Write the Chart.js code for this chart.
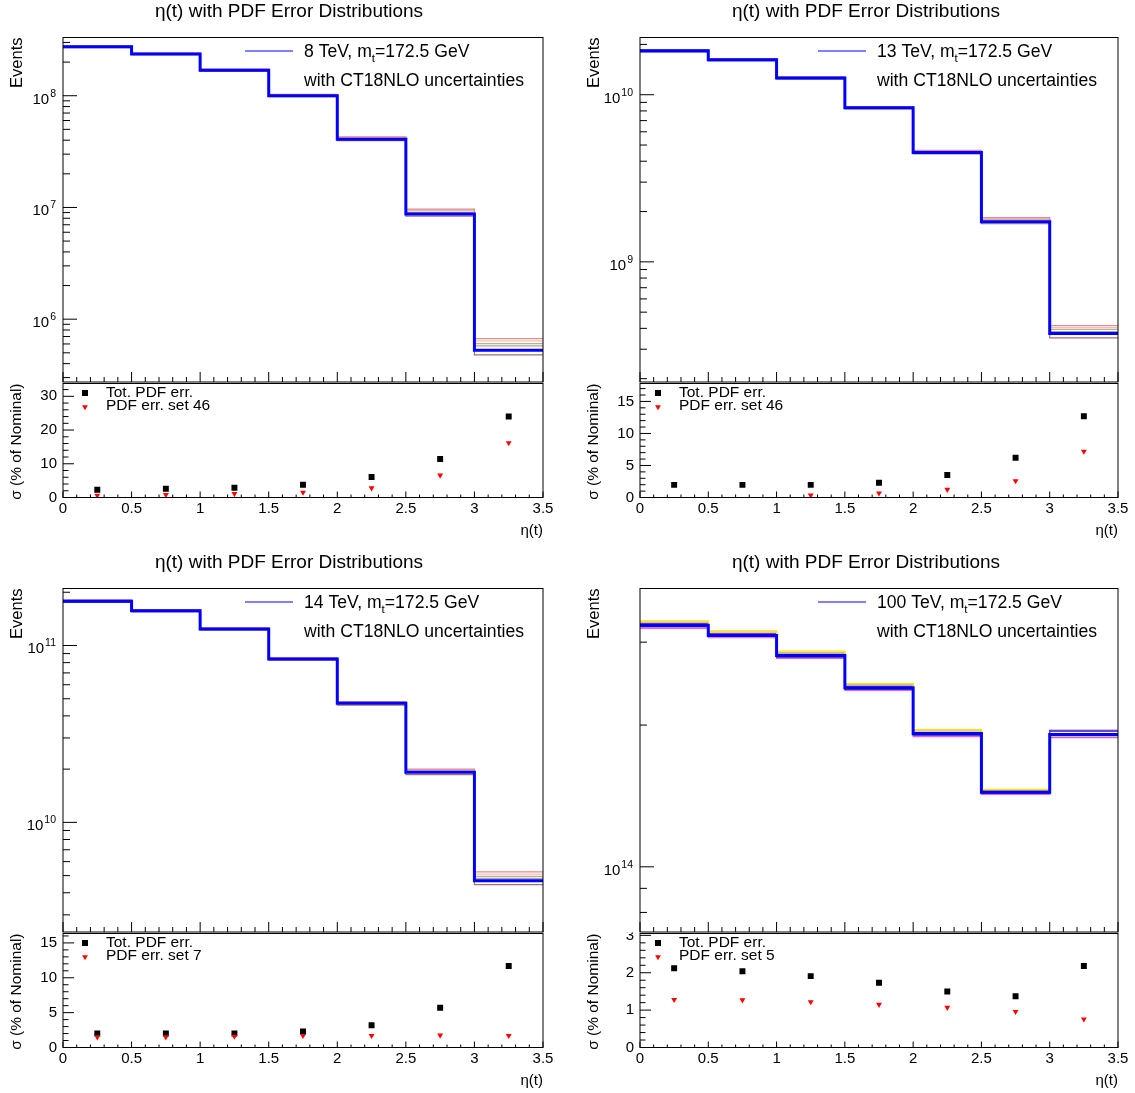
<!DOCTYPE html>
<html>
<head>
<meta charset="utf-8">
<title>eta(t) with PDF error distributions</title>
<script src="https://cdn.jsdelivr.net/npm/chart.js@4.4.1/dist/chart.umd.min.js"></script>
<style>
  body { margin: 0; background: #fff; }
  #page { position: relative; width: 1135px; height: 1093px; background: #fff; }
  #page canvas { position: absolute; left: 0; top: 0; }
</style>
</head>
<body>
<div id="page"></div>
<script>
var Wpx = 1135, Hpx = 1093;
var FACE = '"Liberation Sans", Arial, Helvetica, sans-serif';

// eta(t) binning
var binEdges = [0, 0.5, 1, 1.5, 2, 2.5, 3, 3.5];
var binCentres = [0.25, 0.75, 1.25, 1.75, 2.25, 2.75, 3.25];
var xTickLabels = ['0', '0.5', '1', '1.5', '2', '2.5', '3', '3.5'];

var energies = ['8', '13', '14', '100'];
var errSetLabels = ['PDF err. set 46', 'PDF err. set 46', 'PDF err. set 7', 'PDF err. set 5'];

// 8 TeV: nominal and a few CT18NLO error members
var nom8 = [2.74e8, 2.36e8, 1.69e8, 1.00e8, 4.07e7, 8.73e6, 5.27e5];
var var8Red = [2.80e8, 2.41e8, 1.73e8, 1.03e8, 4.29e7, 9.67e6, 6.70e5];
var var8Pink = [2.78e8, 2.40e8, 1.72e8, 1.02e8, 4.24e7, 9.50e6, 6.40e5];
var var8Tan = [2.77e8, 2.39e8, 1.71e8, 1.02e8, 4.20e7, 9.34e6, 6.04e5];
var var8Grey = [2.76e8, 2.38e8, 1.70e8, 1.01e8, 4.15e7, 9.02e6, 5.77e5];
var var8Cyan = [2.77e8, 2.38e8, 1.70e8, 1.01e8, 4.10e7, 8.80e6, 5.35e5];
var var8Brown = [2.70e8, 2.33e8, 1.66e8, 0.98e8, 3.97e7, 8.37e6, 4.79e5];
var tot8 = [2.3, 2.6, 2.9, 3.8, 6.1, 11.4, 24.0];
var set8 = [0.6, 0.8, 1.1, 1.5, 2.8, 6.6, 16.2];

// 13 TeV
var nom13 = [1.83e10, 1.62e10, 1.26e10, 8.36e9, 4.51e9, 1.74e9, 3.72e8];
var var13Red = [1.86e10, 1.645e10, 1.28e10, 8.50e9, 4.65e9, 1.84e9, 4.15e8];
var var13Pink = [1.85e10, 1.64e10, 1.275e10, 8.46e9, 4.60e9, 1.82e9, 4.04e8];
var var13Tan = [1.85e10, 1.635e10, 1.27e10, 8.44e9, 4.57e9, 1.80e9, 3.94e8];
var var13Grey = [1.84e10, 1.63e10, 1.265e10, 8.40e9, 4.55e9, 1.78e9, 3.83e8];
var var13Cyan = [1.81e10, 1.60e10, 1.245e10, 8.28e9, 4.47e9, 1.73e9, 3.70e8];
var var13Brown = [1.80e10, 1.595e10, 1.24e10, 8.24e9, 4.42e9, 1.69e9, 3.51e8];
var tot13 = [1.97, 1.97, 1.97, 2.3, 3.5, 6.2, 12.7];
var set13 = [null, null, 0.36, 0.67, 1.24, 2.6, 7.2];

// 14 TeV
var nom14 = [1.78e11, 1.57e11, 1.24e11, 8.40e10, 4.71e10, 1.92e10, 4.68e9];
var var14Red = [1.81e11, 1.595e11, 1.26e11, 8.55e10, 4.82e10, 2.00e10, 5.25e9];
var var14Pink = [1.805e11, 1.59e11, 1.255e11, 8.52e10, 4.79e10, 1.98e10, 5.10e9];
var var14Tan = [1.80e11, 1.585e11, 1.25e11, 8.48e10, 4.77e10, 1.96e10, 4.95e9];
var var14Grey = [1.79e11, 1.58e11, 1.245e11, 8.45e10, 4.74e10, 1.94e10, 4.82e9];
var var14Cyan = [1.80e11, 1.59e11, 1.25e11, 8.47e10, 4.73e10, 1.93e10, 4.72e9];
var var14Brown = [1.755e11, 1.55e11, 1.22e11, 8.27e10, 4.60e10, 1.86e10, 4.45e9];
var tot14 = [2.0, 2.0, 2.0, 2.3, 3.2, 5.7, 11.7];
var set14 = [1.5, 1.5, 1.6, 1.7, 1.7, 1.75, 1.7];

// 100 TeV
var nom100 = [3.26e14, 3.10e14, 2.81e14, 2.40e14, 1.92e14, 1.44e14, 1.91e14];
var var100Yellow = [3.33e14, 3.17e14, 2.87e14, 2.45e14, 1.955e14, 1.46e14, 1.915e14];
var var100Gold = [3.31e14, 3.15e14, 2.85e14, 2.44e14, 1.945e14, 1.455e14, 1.90e14];
var var100Purple = [3.29e14, 3.13e14, 2.83e14, 2.42e14, 1.93e14, 1.45e14, 1.94e14];
var var100Navy = [3.24e14, 3.09e14, 2.79e14, 2.385e14, 1.905e14, 1.435e14, 1.95e14];
var var100Violet = [3.23e14, 3.08e14, 2.78e14, 2.38e14, 1.90e14, 1.43e14, 1.885e14];
var var100Magenta = [3.21e14, 3.065e14, 2.77e14, 2.37e14, 1.89e14, 1.425e14, 1.88e14];
var tot100 = [2.12, 2.04, 1.91, 1.73, 1.50, 1.37, 2.18];
var set100 = [1.28, 1.27, 1.22, 1.15, 1.07, 0.96, 0.76];

var lhcColours = ['#e58a8a', '#efc0b8', '#c9ab8c', '#a9a98c', '#3fd8e0', '#a07272'];
var fccColours = ['#f2e600', '#e2c060', '#7a3fc8', '#1c1c9c', '#b36ad6', '#ff5fc4'];

// pad geometry
var cols = [
  { x0: 63, x1: 543, legDx: 182, lowLegDx: 22 },
  { x0: 640, x1: 1118, legDx: 178, lowLegDx: 18 }
];
var rows = [
  { top: 37.5, split: 382, lowTop: 383.5, bottom: 497.5 },
  { top: 588.5, split: 932, lowTop: 933.5, bottom: 1047.5 }
];

var panels = [
  { col: 0, row: 0, energy: energies[0], nominal: nom8, vars: [var8Red, var8Pink, var8Tan, var8Grey, var8Cyan, var8Brown],
    colours: lhcColours, yMin: 2.74e5, yMax: 3.32e8, tot: tot8, set: set8, setLabel: errSetLabels[0],
    ratioMax: 33.8, ratioMajor: 10, ratioMinor: 2 },
  { col: 1, row: 0, energy: energies[1], nominal: nom13, vars: [var13Red, var13Pink, var13Tan, var13Grey, var13Cyan, var13Brown],
    colours: lhcColours, yMin: 1.91e8, yMax: 2.20e10, tot: tot13, set: set13, setLabel: errSetLabels[1],
    ratioMax: 17.8, ratioMajor: 5, ratioMinor: 1 },
  { col: 0, row: 1, energy: energies[2], nominal: nom14, vars: [var14Red, var14Pink, var14Tan, var14Grey, var14Cyan, var14Brown],
    colours: lhcColours, yMin: 2.40e9, yMax: 2.10e11, tot: tot14, set: set14, setLabel: errSetLabels[2],
    ratioMax: 16.35, ratioMajor: 5, ratioMinor: 1 },
  { col: 1, row: 1, energy: energies[3], nominal: nom100, vars: [var100Yellow, var100Gold, var100Purple, var100Navy, var100Violet, var100Magenta],
    colours: fccColours, yMin: 7.27e13, yMax: 3.90e14, tot: tot100, set: set100, setLabel: errSetLabels[3],
    ratioMax: 3.05, ratioMajor: 1, ratioMinor: 0.2 }
];

function font(px) { return px + 'px ' + FACE; }

function addCanvas() {
  var c = document.createElement('canvas');
  c.width = Wpx; c.height = Hpx;
  c.style.width = Wpx + 'px'; c.style.height = Hpx + 'px';
  document.getElementById('page').appendChild(c);
  return c;
}

// histogram as a step line: left edge of every bin, plus the closing edge
function stepPoints(vals) {
  var pts = [];
  for (var i = 0; i < vals.length; i++) pts.push({ x: binEdges[i], y: vals[i] });
  pts.push({ x: binEdges[vals.length], y: vals[vals.length - 1] });
  return pts;
}

function markerPoints(vals) {
  return binCentres.map(function (x, i) { return { x: x, y: vals[i] }; });
}

function baseOptions(frame, yScale) {
  yScale.display = false;
  yScale.bounds = 'data';
  return {
    responsive: false, animation: false, devicePixelRatio: 1, events: [],
    layout: { padding: { left: frame.left, top: frame.top, right: Wpx - frame.right, bottom: Hpx - frame.bottom } },
    plugins: { legend: { display: false }, tooltip: { enabled: false } },
    scales: {
      x: { type: 'linear', min: binEdges[0], max: binEdges[binEdges.length - 1], display: false, bounds: 'data' },
      y: yScale
    }
  };
}

function drawXTicks(ctx, sx, y, majorLen, minorLen) {
  var n = Math.round((sx.max - sx.min) / 0.1);
  ctx.beginPath();
  for (var i = 0; i <= n; i++) {
    var px = sx.getPixelForValue(sx.min + i * 0.1);
    var len = (i % 5 === 0) ? majorLen : minorLen;
    ctx.moveTo(px, y);
    ctx.lineTo(px, y - len);
  }
  ctx.stroke();
}

function powerLabel(ctx, right, y, exp) {
  var e = String(exp);
  ctx.font = font(15);
  var wb = ctx.measureText('10').width;
  ctx.font = font(10.5);
  var we = ctx.measureText(e).width;
  var x0 = right - wb - we - 1;
  ctx.textAlign = 'left';
  ctx.textBaseline = 'alphabetic';
  ctx.font = font(15);
  ctx.fillText('10', x0, y + 8);
  ctx.font = font(10.5);
  ctx.fillText(e, x0 + wb + 1, y + 1);
}

function verticalTitle(ctx, text, x, top, size) {
  ctx.save();
  ctx.translate(x, top);
  ctx.rotate(-Math.PI / 2);
  ctx.font = font(size);
  ctx.textAlign = 'right';
  ctx.textBaseline = 'middle';
  ctx.fillText(text, 0, 0);
  ctx.restore();
}

function drawUpper(chart, p) {
  var ctx = chart.ctx, a = chart.chartArea, sx = chart.scales.x, sy = chart.scales.y;
  var col = cols[p.col], row = rows[p.row];
  ctx.save();
  ctx.strokeStyle = '#000';
  ctx.fillStyle = '#000';
  ctx.lineWidth = 1;
  ctx.strokeRect(a.left, a.top, a.right - a.left, a.bottom - a.top);
  drawXTicks(ctx, sx, a.bottom, 10, 5);

  // log axis: decades get a label, 2..9 get short ticks
  var lo = Math.floor(Math.log10(sy.min)), hi = Math.ceil(Math.log10(sy.max));
  for (var e = lo; e <= hi; e++) {
    for (var m = 1; m <= 9; m++) {
      var v = m * Math.pow(10, e);
      if (v < sy.min || v > sy.max) continue;
      var py = sy.getPixelForValue(v);
      ctx.beginPath();
      ctx.moveTo(a.left, py);
      ctx.lineTo(a.left + (m === 1 ? 14 : 7), py);
      ctx.stroke();
      if (m === 1) powerLabel(ctx, a.left - 7, py, e);
    }
  }

  // pad title and axis title
  ctx.font = font(19);
  ctx.textAlign = 'center';
  ctx.textBaseline = 'middle';
  ctx.fillText('\u03b7(t) with PDF Error Distributions', col.x0 + 226, row.top - 25.5);
  verticalTitle(ctx, 'Events', col.x0 - 46, row.top, 16.5);

  // legend
  var lx = col.x0 + col.legDx, ly = row.top + 13;
  ctx.strokeStyle = '#0000ff';
  ctx.beginPath();
  ctx.moveTo(lx, ly + 0.5);
  ctx.lineTo(lx + 48, ly + 0.5);
  ctx.stroke();
  var tx = lx + 59;
  ctx.textAlign = 'left';
  ctx.textBaseline = 'alphabetic';
  ctx.font = font(17.6);
  var part1 = p.energy + ' TeV, m';
  ctx.fillText(part1, tx, ly + 6.5);
  tx += ctx.measureText(part1).width;
  ctx.font = font(11.5);
  ctx.fillText('t', tx, ly + 11.5);
  tx += ctx.measureText('t').width;
  ctx.font = font(17.6);
  ctx.fillText('=172.5 GeV', tx, ly + 6.5);
  ctx.fillText('with CT18NLO uncertainties', lx + 59, ly + 35.5);
  ctx.restore();
}

function drawLower(chart, p) {
  var ctx = chart.ctx, a = chart.chartArea, sx = chart.scales.x, sy = chart.scales.y;
  var col = cols[p.col], row = rows[p.row];
  ctx.save();
  ctx.strokeStyle = '#000';
  ctx.fillStyle = '#000';
  ctx.lineWidth = 1;
  ctx.strokeRect(a.left, a.top, a.right - a.left, a.bottom - a.top);
  drawXTicks(ctx, sx, a.bottom, 6, 3);

  // x labels
  ctx.font = font(15);
  ctx.textAlign = 'center';
  ctx.textBaseline = 'middle';
  binEdges.forEach(function (v, i) {
    ctx.fillText(xTickLabels[i], sx.getPixelForValue(v), a.bottom + 11);
  });
  ctx.textAlign = 'right';
  ctx.fillText('\u03b7(t)', a.right, a.bottom + 33);

  // y ticks and labels (labels cut at the pad edge)
  ctx.save();
  ctx.beginPath();
  ctx.rect(0, a.top - 1, Wpx, Hpx);
  ctx.clip();
  var n = Math.floor(sy.max / p.ratioMinor + 1e-6);
  for (var i = 0; i <= n; i++) {
    var v = i * p.ratioMinor;
    var py = sy.getPixelForValue(v);
    var k = v / p.ratioMajor;
    var major = Math.abs(k - Math.round(k)) < 1e-6;
    ctx.beginPath();
    ctx.moveTo(a.left, py);
    ctx.lineTo(a.left + (major ? 11 : 5.5), py);
    ctx.stroke();
    if (major) {
      ctx.textAlign = 'right';
      ctx.fillText(String(Math.round(v)), a.left - 6, py);
    }
  }
  ctx.restore();

  verticalTitle(ctx, '\u03c3 (% of Nominal)', col.x0 - 46, row.lowTop, 15.5);

  // legend
  var mx = col.x0 + col.lowLegDx, my = row.lowTop + 9.5;
  ctx.fillStyle = '#000';
  ctx.fillRect(mx - 3, my - 3, 6, 6);
  var ty = my + 14.5;
  ctx.fillStyle = '#ff0000';
  ctx.beginPath();
  ctx.moveTo(mx - 2.9, ty - 2.2);
  ctx.lineTo(mx + 2.9, ty - 2.2);
  ctx.lineTo(mx, ty + 2.8);
  ctx.closePath();
  ctx.fill();
  ctx.fillStyle = '#000';
  ctx.font = font(15.5);
  ctx.textAlign = 'left';
  ctx.textBaseline = 'middle';
  ctx.fillText('Tot. PDF err.', mx + 21, my);
  ctx.fillText(p.setLabel, mx + 21, my + 12.5);
  ctx.restore();
}

function upperPad(p) {
  var col = cols[p.col], row = rows[p.row];
  var frame = { left: col.x0, right: col.x1, top: row.top, bottom: row.split };
  // nominal first so it is drawn on top of the error members
  var datasets = [{ data: stepPoints(p.nominal), borderColor: '#0000ff', borderWidth: 3 }];
  p.vars.forEach(function (v, i) {
    datasets.push({ data: stepPoints(v), borderColor: p.colours[i], borderWidth: 1.2 });
  });
  datasets.forEach(function (d) {
    d.stepped = 'before';
    d.pointRadius = 0;
    d.fill = false;
  });
  new Chart(addCanvas(), {
    type: 'line',
    data: { datasets: datasets },
    options: baseOptions(frame, { type: 'logarithmic', min: p.yMin, max: p.yMax }),
    plugins: [{ id: 'upperAxes', afterDraw: function (chart) { drawUpper(chart, p); } }]
  });
}

function lowerPad(p) {
  var col = cols[p.col], row = rows[p.row];
  var frame = { left: col.x0, right: col.x1, top: row.lowTop, bottom: row.bottom };
  var clip = { left: 10, right: 10, top: 10, bottom: 0 };
  new Chart(addCanvas(), {
    type: 'scatter',
    data: {
      datasets: [
        { data: markerPoints(p.set), pointStyle: 'triangle', pointRotation: 180, pointRadius: 3.4,
          pointBackgroundColor: '#ff0000', pointBorderWidth: 0, clip: clip },
        { data: markerPoints(p.tot), pointStyle: 'rect', pointRadius: 4.2,
          pointBackgroundColor: '#000000', pointBorderWidth: 0, clip: clip }
      ]
    },
    options: baseOptions(frame, { type: 'linear', min: 0, max: p.ratioMax }),
    plugins: [{ id: 'lowerAxes', afterDraw: function (chart) { drawLower(chart, p); } }]
  });
}

panels.forEach(function (p) {
  upperPad(p);
  lowerPad(p);
});
</script>
</body>
</html>
